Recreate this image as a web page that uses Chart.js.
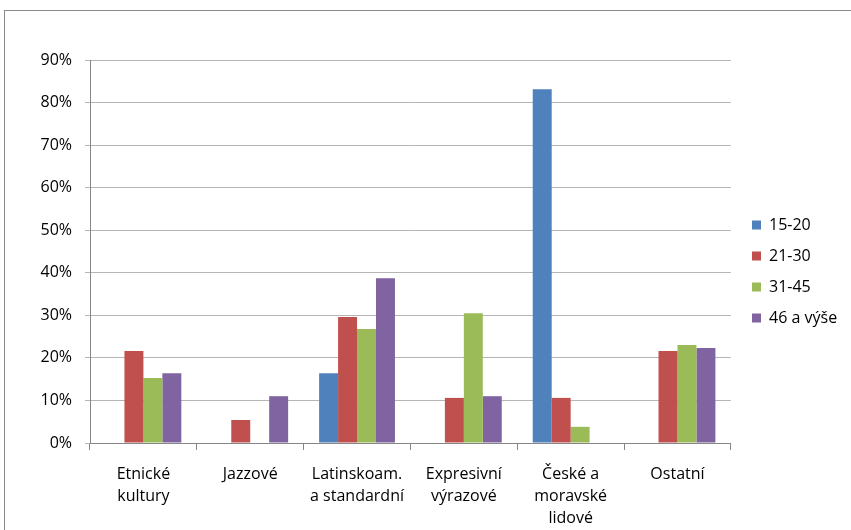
<!DOCTYPE html>
<html><head><meta charset="utf-8">
<script src="https://cdn.jsdelivr.net/npm/chart.js@4"></script>
<style>html,body{margin:0;padding:0;background:#fff}#w{width:851px;height:530px}</style>
</head><body><div id="w"><canvas id="c"></canvas></div>
<script>
const categories = [["Etnické","kultury"],"Jazzové",["Latinskoam.","a standardní"],["Expresivní","výrazové"],["České a","moravské","lidové"],"Ostatní"];
const seriesNames = ["15-20","21-30","31-45","46 a výše"];
const s1520 = [0, 0, 16.4, 0, 83.1, 0];
const s2130 = [21.6, 5.4, 29.6, 10.6, 10.6, 21.6];
const s3145 = [15.3, 0, 26.8, 30.5, 3.8, 23.0];
const s46 = [16.4, 11.0, 38.7, 11.0, 0, 22.3];
const colors = ["#4F81BD","#C0504D","#9BBB59","#8064A2"];
const yTicks = [0,10,20,30,40,50,60,70,80,90];

const borderPlugin = {id:'outer',
  afterLayout(chart){const lg=chart.legend; if(!lg) return; const pad=15;
    const w=lg.right-lg.left, h=lg.bottom-lg.top;
    lg.left=752-pad; lg.right=lg.left+w; lg.top=202; lg.bottom=lg.top+h;},
  afterDraw(chart){const ctx=chart.ctx;ctx.save();ctx.strokeStyle='#8a8a8a';ctx.lineWidth=1;ctx.strokeRect(4.5,10.5,900,600);ctx.restore();}};
const FONT = "'Open Sans', sans-serif";
new Chart(document.getElementById('c'), {
  type:'bar',
  data:{labels:categories, datasets:[s1520,s2130,s3145,s46].map((d,i)=>({label:seriesNames[i],data:d,backgroundColor:colors[i],borderWidth:0}))},
  options:{
    responsive:true, maintainAspectRatio:false, animation:false,
    datasets:{bar:{categoryPercentage:0.71,barPercentage:1}},
    layout:{padding:{top:60,left:0,right:10,bottom:0}},
    plugins:{tooltip:{enabled:false},
      legend:{position:'right',align:'start',labels:{boxWidth:9,boxHeight:9,padding:15,color:'#000',font:{family:FONT,size:16}}}},
    scales:{
      x:{grid:{drawOnChartArea:false,drawTicks:true,tickLength:7,color:'#868686',offset:true},border:{color:'#868686'},
         ticks:{color:'#000',font:{family:FONT,size:16,lineHeight:1.35},padding:14,maxRotation:0,autoSkip:false},
         afterFit(s){s.height=87;}},
      y:{min:0,max:90,grid:{color:'#b5b5b5',tickLength:5,drawTicks:true},border:{color:'#868686'},
         ticks:{stepSize:10,color:'#000',font:{family:FONT,size:16},padding:13,callback:v=>yTicks.includes(v)?v+'%':''},
         afterFit(s){s.width=90;}}
    }
  },
  plugins:[borderPlugin]
});
</script></body></html>
